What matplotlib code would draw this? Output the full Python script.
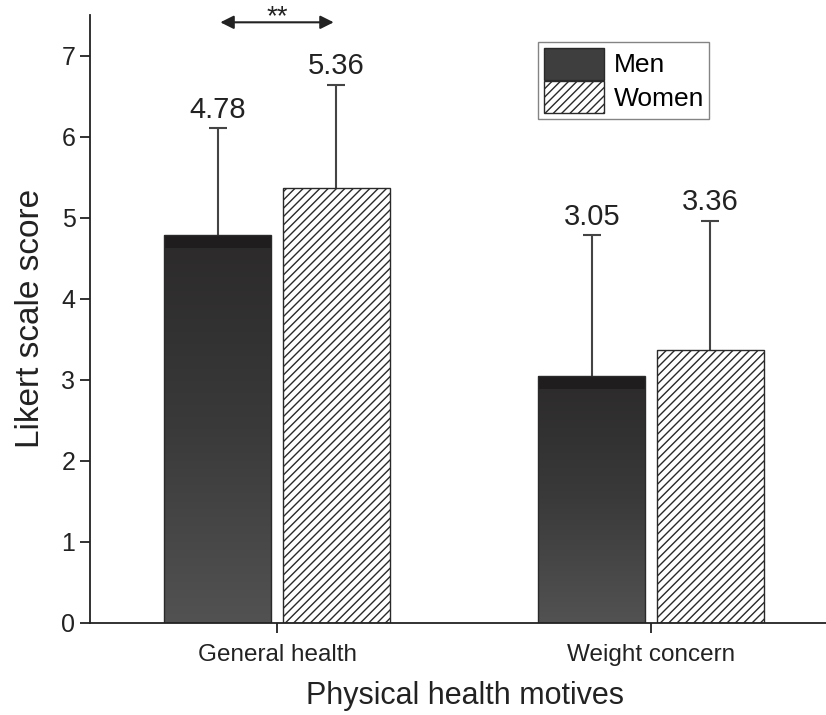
import numpy as np
import matplotlib.pyplot as plt
from matplotlib.colors import LinearSegmentedColormap
from matplotlib.patches import Patch

plt.rcParams['font.family'] = ['Liberation Sans', 'DejaVu Sans']
plt.rcParams['hatch.linewidth'] = 1.0

motives = ['General health', 'Weight concern']
men = [4.78, 3.05]
women = [5.36, 3.36]
men_sd = [1.32, 1.73]
women_sd = [1.28, 1.60]

x = np.arange(len(motives))
w = 0.286
off = 0.158
ink = '#222222'

fig = plt.figure(figsize=(8.26, 7.15), dpi=100)
ax = fig.add_axes([0.109, 0.129, 0.891, 0.85])

# men bars: dark gradient fill
men_bars = ax.bar(x - off, men, w, color='none', edgecolor='#2a2a2a', linewidth=1.0, zorder=2)
grad = np.linspace(0, 1, 256).reshape(-1, 1)
cmap = LinearSegmentedColormap.from_list('g', ['#525252', '#3a3a3a', '#2c2a2a'])
for b in men_bars:
    x0, y0 = b.get_x(), b.get_y()
    bw, bh = b.get_width(), b.get_height()
    im = ax.imshow(grad, cmap=cmap, extent=[x0, x0 + bw, y0, y0 + bh],
                   origin='lower', aspect='auto', zorder=1)
    im.set_clip_path(b)
    ax.bar(x0 + bw / 2, 0.16, bw, bottom=y0 + bh - 0.16, color='#1f1d1d', linewidth=0, zorder=1.5)

women_bars = ax.bar(x + off, women, w, color='white', edgecolor='#2a2a2a', hatch='////',
                    linewidth=1.0, zorder=2)

# one-sided error bars (upper only)
for xs, vals, sds in [(x - off, men, men_sd), (x + off, women, women_sd)]:
    tops = np.array(vals) + np.array(sds)
    ax.vlines(xs, vals, tops, color='#444444', lw=1.5, zorder=1)
    ax.hlines(tops, xs - 0.024, xs + 0.024, color='#444444', lw=1.5, zorder=1)
    for xi, v, t in zip(xs, vals, tops):
        ax.text(xi, t + 0.06, f'{v:.2f}', ha='center', va='bottom', fontsize=21, color=ink)

# significance marker between the general health bars
ax.annotate('', xy=(-off - 0.001, 7.41), xytext=(off + 0.001, 7.41),
            arrowprops=dict(arrowstyle='<|-|>', color=ink, lw=1.5, mutation_scale=20),
            annotation_clip=False)
ax.text(0, 7.39, '**', ha='center', va='baseline', fontsize=20, color=ink, clip_on=False)

ax.set_xlim(-0.5, 1.468)
ax.set_ylim(0, 7.5)
ax.set_yticks(range(0, 8))
ax.set_xticks(x)
ax.set_xticklabels(motives, fontsize=17.5)
ax.tick_params(axis='y', labelsize=18, length=7, width=1.3, colors=ink, direction='out')
ax.tick_params(axis='x', length=7, width=1.3, colors=ink, direction='out', pad=8)
for sp in ['top', 'right']:
    ax.spines[sp].set_visible(False)
for sp in ['left', 'bottom']:
    ax.spines[sp].set_linewidth(1.3)
    ax.spines[sp].set_color(ink)

ax.set_ylabel('Likert scale score', fontsize=24, labelpad=11, color=ink)
ax.set_xlabel('Physical health motives', fontsize=22, labelpad=11, color=ink)
ax.xaxis.label.set_x(0.51)

handles = [Patch(facecolor='#3e3e3e', edgecolor='#2a2a2a'),
           Patch(facecolor='white', edgecolor='#2a2a2a', hatch='////')]
ax.legend(handles, ['Men', 'Women'], loc='upper left', bbox_to_anchor=(0.609, 0.955),
          fontsize=19, frameon=True, fancybox=False, edgecolor='#666666',
          handlelength=2.3, handleheight=1.5, handletextpad=0.35, labelspacing=0.05,
          borderpad=0.2, borderaxespad=0)

fig.savefig('out.png', dpi=100)
